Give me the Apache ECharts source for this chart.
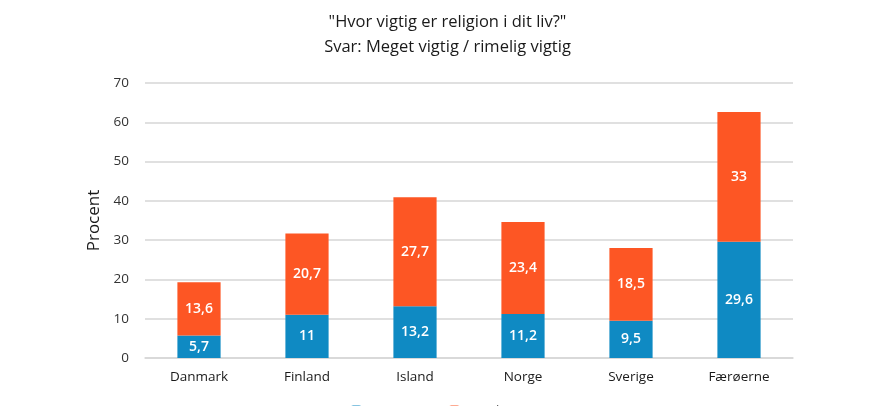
<!DOCTYPE html>
<html>
<head>
<meta charset="utf-8">
<script src="https://cdn.jsdelivr.net/npm/echarts@6/dist/echarts.min.js"></script>
<style>
  html, body { margin: 0; padding: 0; background: #fff; }
  #chart { width: 895px; height: 406px; }
</style>
</head>
<body>
<div id="chart"></div>
<script>
var countries = ['Danmark', 'Finland', 'Island', 'Norge', 'Sverige', 'Færøerne'];
var megetVigtig = [5.7, 11, 13.2, 11.2, 9.5, 29.6];
var rimeligVigtig = [13.6, 20.7, 27.7, 23.4, 18.5, 33];
var yTicks = [0, 10, 20, 30, 40, 50, 60, 70];

var font = '"Open Sans", "Noto Sans", sans-serif';

function fmt(p) {
    return String(p.value).replace('.', ',');
}

var chart = echarts.init(document.getElementById('chart'));
chart.setOption({
    animation: false,
    textStyle: { fontFamily: font },
    title: {
        text: '"Hvor vigtig er religion i dit liv?"\nSvar: Meget vigtig / rimelig vigtig',
        left: 'center',
        top: 5,
        textStyle: { fontSize: 16.5, fontWeight: 500, color: '#1a1a1a', lineHeight: 25, fontFamily: font }
    },
    legend: {
        bottom: -17,
        left: 'center',
        itemWidth: 12,
        itemHeight: 12,
        textStyle: { fontSize: 13, color: '#555' },
        data: ['Meget vigtig', 'Rimelig vigtig']
    },
    grid: { left: 145, right: 102, top: 83, bottom: 48 },
    xAxis: {
        type: 'category',
        data: countries,
        axisTick: { show: false },
        axisLine: { lineStyle: { color: '#d6d6d6', width: 1.5 } },
        axisLabel: { color: '#1a1a1a', fontSize: 13.5, fontWeight: 500, margin: 12 }
    },
    yAxis: {
        type: 'value',
        min: yTicks[0],
        max: yTicks[yTicks.length - 1],
        interval: 10,
        name: 'Procent',
        nameLocation: 'middle',
        nameGap: 38,
        nameTextStyle: { fontSize: 17, color: '#1a1a1a', fontWeight: 500 },
        axisLabel: { color: '#333', fontSize: 13.5, fontWeight: 500, margin: 16 },
        splitLine: { lineStyle: { color: '#d6d6d6', width: 1.5 } }
    },
    series: [
        {
            name: 'Meget vigtig',
            type: 'bar',
            stack: 'total',
            data: megetVigtig,
            barWidth: '40%',
            itemStyle: { color: '#0f8ac3' },
            label: { show: true, position: 'inside', color: '#fff', fontSize: 14, fontWeight: 600, formatter: fmt }
        },
        {
            name: 'Rimelig vigtig',
            type: 'bar',
            stack: 'total',
            data: rimeligVigtig,
            barWidth: '40%',
            itemStyle: { color: '#fd5624' },
            label: { show: true, position: 'inside', color: '#fff', fontSize: 14, fontWeight: 600, formatter: fmt }
        }
    ]
});
</script>
</body>
</html>
